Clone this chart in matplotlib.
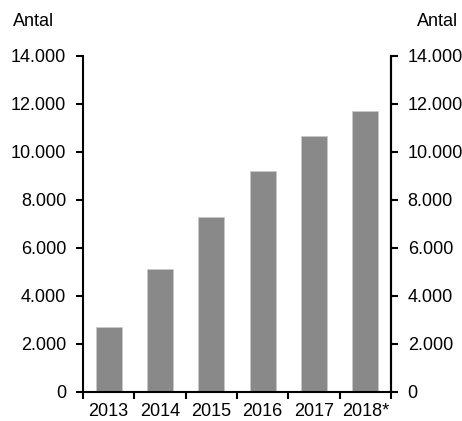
import numpy as np
import matplotlib
matplotlib.use("Agg")
import matplotlib.pyplot as plt
from matplotlib.ticker import FuncFormatter, FixedLocator

plt.rcParams['font.family'] = ['Liberation Sans', 'DejaVu Sans']

years = ['2013', '2014', '2015', '2016', '2017', '2018*']
antal = [2720, 5110, 7290, 9210, 10680, 11710]
yticks = [0, 2000, 4000, 6000, 8000, 10000, 12000, 14000]

def fmt(v, pos):
    return f"{int(v):,}".replace(",", ".")

fig = plt.figure(figsize=(4.62, 4.21), dpi=100)
ax = fig.add_axes([83/462, 29/421, 308/462, 336/421])

x = np.arange(len(years))
ax.bar(x, antal, width=0.51, color='#898989', edgecolor='#c8c8c8', linewidth=0.6)

ax.set_xlim(-0.5, len(years) - 0.5)
ax.set_ylim(0, 14000)
ax.set_yticks(yticks)
ax.yaxis.set_major_formatter(FuncFormatter(fmt))

# category labels centred under bars, ticks on the boundaries
ax.set_xticks(x)
ax.set_xticklabels(years)
ax.tick_params(axis='x', which='major', length=0, pad=8, labelsize=13)
ax.xaxis.set_minor_locator(FixedLocator(np.arange(-0.5, len(years), 1.0)))
ax.tick_params(axis='x', which='minor', length=5, width=1.5, direction='out')

ax.tick_params(axis='y', length=5, width=1.5, direction='out', pad=7, labelsize=13)

for s in ['left', 'bottom', 'right']:
    ax.spines[s].set_linewidth(1.5)
ax.spines['top'].set_visible(False)

ax2 = ax.twinx()
ax2.set_ylim(0, 14000)
ax2.set_yticks(yticks)
ax2.yaxis.set_major_formatter(FuncFormatter(fmt))
ax2.tick_params(axis='y', length=5, width=1.5, direction='out', pad=7, labelsize=13)
for s in ['top', 'left', 'bottom']:
    ax2.spines[s].set_visible(False)
ax2.spines['right'].set_linewidth(1.5)

fig.text(13/462, 1 - 21/421, 'Antal', fontsize=13, ha='left', va='center')
fig.text(458/462, 1 - 21/421, 'Antal', fontsize=13, ha='right', va='center')

fig.savefig('out.png', dpi=100)
